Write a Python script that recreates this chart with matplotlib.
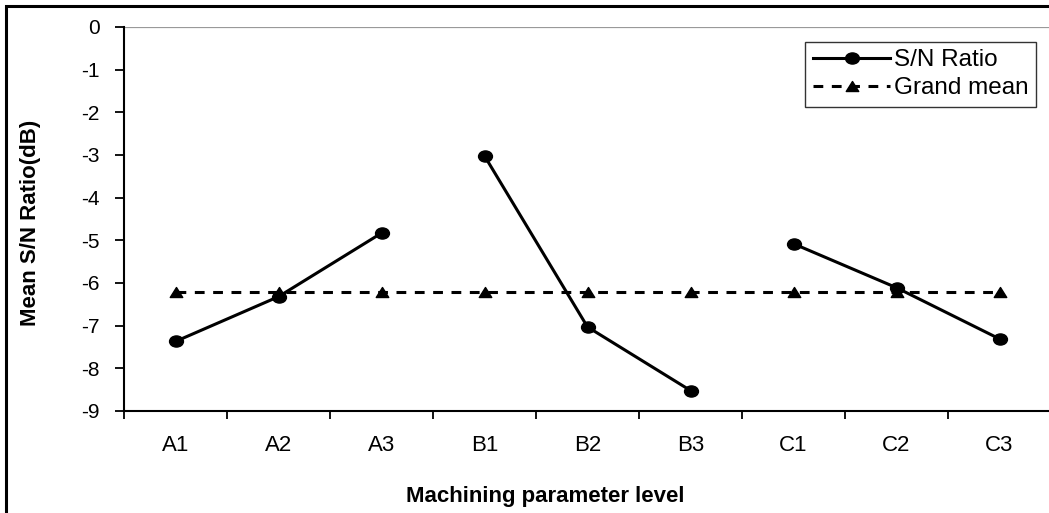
import numpy as np
import matplotlib.pyplot as plt
from matplotlib.patches import Rectangle
from matplotlib.path import Path
from matplotlib.transforms import Affine2D

levels = ['A1', 'A2', 'A3', 'B1', 'B2', 'B3', 'C1', 'C2', 'C3']
sn_ratio = [-7.37, -6.32, -4.83, -3.02, -7.03, -8.52, -5.08, -6.11, -7.31]
grand_mean = -6.2
groups = [(0, 3), (3, 6), (6, 9)]
yticks = [0, -1, -2, -3, -4, -5, -6, -7, -8, -9]

plt.rcParams['font.family'] = ['Liberation Sans', 'DejaVu Sans']

W, H = 1049, 513
fig = plt.figure(figsize=(W / 100, H / 100), dpi=100)
ax = fig.add_axes([124 / W, 1 - 411 / H, (1051 - 124) / W, (411 - 27) / H])

x = np.arange(len(levels))
sn = np.array(sn_ratio)

# slightly wide markers, like the original excel export
ellipse = Path.unit_circle().transformed(Affine2D().scale(1.25, 1.0))
tri = Path([(-1.0, -0.8), (1.0, -0.8), (0.0, 0.8), (-1.0, -0.8)],
           [Path.MOVETO, Path.LINETO, Path.LINETO, Path.CLOSEPOLY])

# grand mean line
ax.plot(x, [grand_mean] * len(levels), color='black', lw=2.2, ls=(0, (3.2, 2.8)),
        marker=tri, ms=9, label='Grand mean', zorder=3)

# S/N ratio, broken between factors
for i, (a, b) in enumerate(groups):
    ax.plot(x[a:b], sn[a:b], color='black', lw=2.2, marker=ellipse, ms=10,
            label='S/N Ratio' if i == 0 else None, zorder=4)

ax.set_xlim(-0.5, len(levels) - 0.5)
ax.set_ylim(-9, 0)
ax.axhline(0, color='#999999', lw=1.6, zorder=1)

ax.set_yticks(yticks)
ax.set_yticklabels([str(t) for t in yticks], fontsize=15)
ax.set_xticks(x)
ax.set_xticklabels(levels, fontsize=16)
ax.set_xticks(np.arange(-0.5, len(levels), 1), minor=True)
ax.tick_params(axis='x', which='major', length=0, pad=17)
ax.tick_params(axis='x', which='minor', length=6, width=1.3, direction='out')
ax.tick_params(axis='y', length=6.5, width=1.3, direction='out', pad=11)

for s in ['top', 'right']:
    ax.spines[s].set_visible(False)
for s in ['left', 'bottom']:
    ax.spines[s].set_linewidth(1.5)

handles, labels = ax.get_legend_handles_labels()
order = [labels.index('S/N Ratio'), labels.index('Grand mean')]
leg = ax.legend([handles[i] for i in order], [labels[i] for i in order],
                loc='upper right', bbox_to_anchor=(1036 / W, 1 - 42 / H),
                bbox_transform=fig.transFigure, fontsize=17.5, frameon=True,
                fancybox=False, handlelength=3.2, handletextpad=0.15,
                borderpad=0.3, labelspacing=0.25, borderaxespad=0)
leg.get_frame().set_edgecolor('black')
leg.get_frame().set_linewidth(1.0)

fig.text(545 / W, 1 - 502 / H, 'Machining parameter level', ha='center', va='baseline',
         fontsize=16, fontweight='bold')
fig.text(31 / W, 1 - 223 / H, 'Mean S/N Ratio(dB)', ha='center', va='center',
         rotation=90, fontsize=16, fontweight='bold')

# outer chart border
fig.patches.append(Rectangle((6 / W, -0.1), 1.2, 1 - 6 / H + 0.1, transform=fig.transFigure,
                             fill=False, edgecolor='black', lw=2.2))

fig.savefig('out.png', dpi=100)
